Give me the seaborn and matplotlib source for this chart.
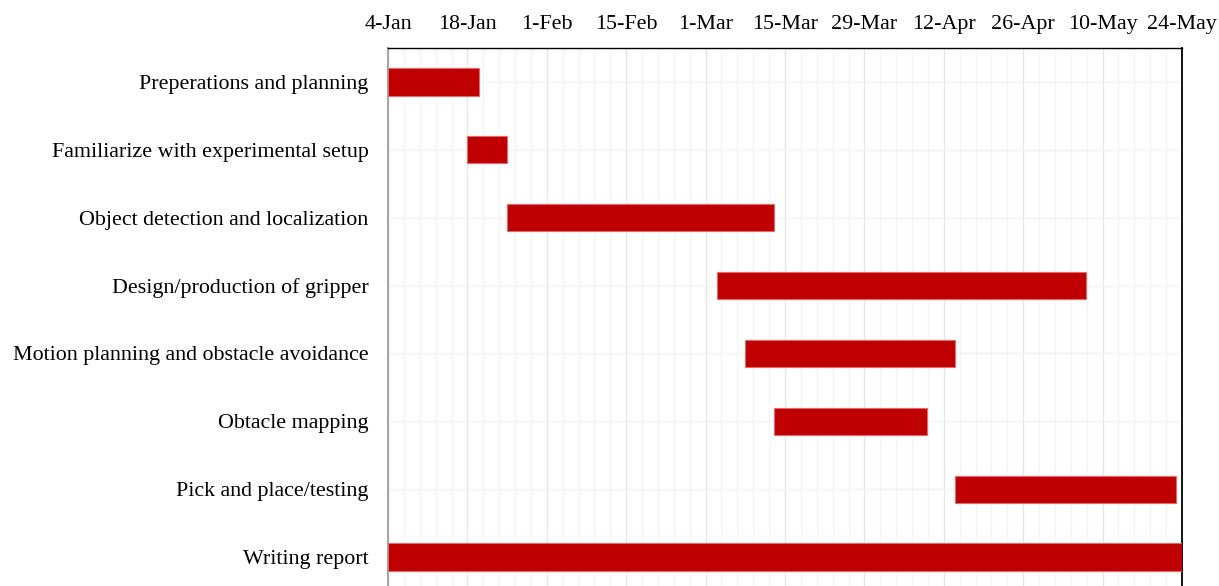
import matplotlib
matplotlib.use("Agg")
import matplotlib.pyplot as plt
import matplotlib.dates as mdates
from matplotlib.ticker import FixedLocator
import numpy as np
import pandas as pd
import seaborn as sns

# Project schedule
tasks = [
    "Preperations and planning",
    "Familiarize with experimental setup",
    "Object detection and localization",
    "Design/production of gripper",
    "Motion planning and obstacle avoidance",
    "Obtacle mapping",
    "Pick and place/testing",
    "Writing report",
]
start_dates = [
    "2021-01-04", "2021-01-18", "2021-01-25", "2021-03-03",
    "2021-03-08", "2021-03-13", "2021-04-14", "2021-01-04",
]
end_dates = [
    "2021-01-20", "2021-01-25", "2021-03-13", "2021-05-07",
    "2021-04-14", "2021-04-09", "2021-05-23", "2021-05-24",
]
axis_start = "2021-01-04"
axis_end = "2021-05-24"
tick_step_days = 14

sns.set_theme(style="white")
plt.rcParams["font.family"] = ["Liberation Serif", "DejaVu Serif"]

df = pd.DataFrame({
    "task": tasks,
    "start": pd.to_datetime(start_dates),
    "end": pd.to_datetime(end_dates),
})
df["s"] = mdates.date2num(df["start"])
df["d"] = mdates.date2num(df["end"]) - df["s"]

fig = plt.figure(figsize=(12.19, 5.86), dpi=100)
ax = fig.add_axes([388 / 1219, -5 / 586, (1182 - 388) / 1219, (591 - 48) / 586])

ypos = np.arange(len(tasks))
ax.barh(ypos, df["d"], left=df["s"], height=0.4, color="#C00000",
        edgecolor="#e26a6a", linewidth=0.8, zorder=3)

x0 = mdates.date2num(pd.Timestamp(axis_start))
x1 = mdates.date2num(pd.Timestamp(axis_end))
ax.set_xlim(x0, x1)
ax.set_ylim(len(tasks) - 0.5, -0.5)

ticks = mdates.date2num(pd.date_range(axis_start, axis_end, freq=f"{tick_step_days}D"))
ax.xaxis.set_major_locator(FixedLocator(ticks))
ax.xaxis.set_minor_locator(FixedLocator(np.arange(x0, x1 + 0.01, tick_step_days / 5)))
ax.xaxis.set_major_formatter(mdates.DateFormatter("%-d-%b"))
ax.xaxis.tick_top()
ax.tick_params(axis="x", which="both", length=0, pad=10, labelsize=15.8, colors="black")

ax.set_yticks(ypos)
ax.set_yticklabels(tasks)
ax.tick_params(axis="y", length=0, pad=14, labelsize=15.8, colors="black")

ax.grid(axis="x", which="major", color="#e6e6e6", linewidth=1.0, zorder=0)
ax.grid(axis="x", which="minor", color="#f4f4f4", linewidth=1.0, zorder=0)
ax.grid(axis="y", which="major", color="#f3f3f3", linewidth=1.0, zorder=0)
ax.set_axisbelow(True)

ax.spines["left"].set_color("#a6a6a6")
ax.spines["left"].set_linewidth(1.5)
ax.spines["top"].set_color("black")
ax.spines["top"].set_linewidth(1.0)
ax.spines["right"].set_color("black")
ax.spines["right"].set_linewidth(1.3)
ax.spines["bottom"].set_visible(False)

ax.set_xlabel("")
ax.set_ylabel("")

fig.savefig("out.png", dpi=100)
